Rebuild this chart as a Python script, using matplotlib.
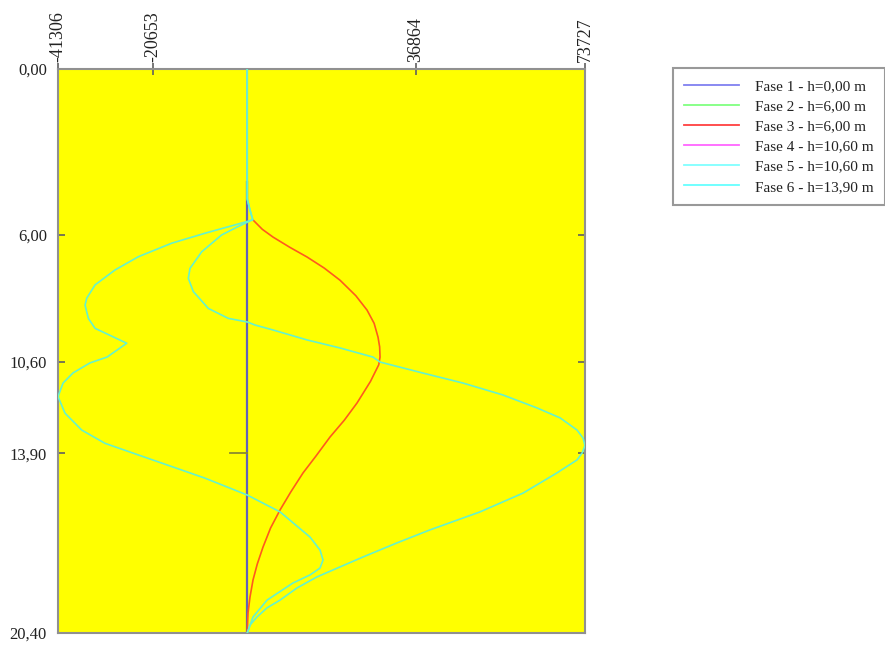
import numpy as np
import matplotlib
matplotlib.use('Agg')
import matplotlib.pyplot as plt
from matplotlib.lines import Line2D

# axis ticks (values as printed on the chart)
X_TICKS = [-41306, -20653, 36864, 73727]
Y_TICKS = [0.00, 6.00, 10.60, 13.90, 20.40]
Y_TICK_LABELS = ['0,00', '6,00', '10,60', '13,90', '20,40']

LABELS = ['Fase 1 - h=0,00 m', 'Fase 2 - h=6,00 m', 'Fase 3 - h=6,00 m',
          'Fase 4 - h=10,60 m', 'Fase 5 - h=10,60 m', 'Fase 6 - h=13,90 m']
LEGEND_COLORS = ['#8080f0', '#80ff80', '#ff4040', '#ff66ff', '#80ffff', '#66ffff']

# depth (m) and value for each phase
fase1_y = [4.10, 20.40]
fase1_x = [0, 0]

fase2_y = [0.00, 20.40]
fase2_x = [0, 0]

fase3_y = [5.45, 5.80, 6.08, 6.45, 6.80, 7.20, 7.64, 8.20, 8.72, 9.20, 9.70, 10.05,
           10.42, 10.70, 11.30, 12.08, 12.70, 13.31, 14.00, 14.61, 15.30, 15.95,
           16.60, 17.29, 17.90, 18.48, 19.10, 19.67, 20.10, 20.40]
fase3_x = [1200, 3300, 5632, 9300, 13053, 16800, 20256, 23700, 26150, 27700, 28551,
           28900, 28987, 28700, 26900, 23967, 21200, 18074, 15000, 12180, 9500, 7160,
           5100, 3449, 2200, 1266, 600, 175, 40, 0]

fase4_y = [0.00, 20.40]
fase4_x = [0, 0]

fase5_y = [0.00, 4.70, 5.10, 5.45, 5.70, 6.00, 6.61, 7.21, 7.57, 8.05, 8.66, 9.02,
           9.15, 9.26, 9.44, 9.80, 10.09, 10.42, 10.60, 11.00, 11.36, 11.79, 12.26,
           12.62, 13.06, 13.35, 13.62, 13.89, 14.14, 14.61, 15.34, 16.02, 16.67,
           17.14, 17.65, 18.01, 18.37, 18.77, 19.21, 19.49, 19.82, 20.11, 20.40]
fase5_x = [0, 0, 600, 1200, -2000, -5570, -9930, -12490, -12860, -11770, -8490,
           -4130, 0, 1700, 5630, 13053, 20250, 27460, 28990, 38400, 47104, 55800,
           63257, 68300, 71988, 73300, 73727, 73100, 71988, 67600, 60201, 50800,
           39900, 32700, 25276, 20250, 15235, 10870, 7160, 4320, 2139, 610, 0]

fase6_y = [0.00, 4.70, 5.10, 5.45, 5.52, 5.94, 6.30, 6.79, 7.27, 7.81, 8.29, 8.54,
           9.02, 9.38, 9.92, 10.42, 10.63, 10.99, 11.36, 11.85, 12.45, 13.06, 13.54,
           13.96, 14.38, 14.80, 15.41, 16.02, 16.93, 17.40, 17.76, 18.05, 18.30,
           18.59, 19.21, 19.82, 20.40]
fase6_x = [0, 0, 600, 1200, -110, -9211, -16480, -23770, -28870, -33220, -35030,
           -35400, -34680, -33220, -26300, -30600, -34314, -38000, -40208, -41306,
           -39770, -36130, -31040, -23770, -16480, -9211, 0, 7160, 13708, 15890,
           16546, 15890, 13708, 9996, 4322, 1266, 0]

fig = plt.figure(figsize=(8.85, 6.45), dpi=100)
ax = fig.add_axes([58/885, 12/645, 527/885, 564/645])
ax.set_facecolor('#ffff00')

curve_cyan = '#66f2cc'
ax.plot(fase2_x, fase2_y, color='#80ff80', lw=1.1, zorder=2)
ax.plot(fase4_x, fase4_y, color='#ff66ff', lw=1.1, zorder=2)
ax.plot(fase1_x, fase1_y, color='#6262b8', lw=1.6, zorder=3)
ax.plot(fase3_x, fase3_y, color='#ff5a1e', lw=1.2, zorder=4)
ax.plot(fase5_x, fase5_y, color=curve_cyan, lw=1.2, zorder=5)
ax.plot(fase6_x, fase6_y, color=curve_cyan, lw=1.2, zorder=5)

ax.set_xlim(X_TICKS[0], X_TICKS[-1])
ax.set_ylim(Y_TICKS[-1], Y_TICKS[0])

# small tick on the zero line at 13,90 as in the original
ax.plot([-3700, 0], [Y_TICKS[3], Y_TICKS[3]], color='#8a8a30', lw=1.3, zorder=3)

ax.xaxis.tick_top()
ax.set_xticks(X_TICKS)
ax.set_xticklabels([str(v) for v in X_TICKS], rotation=90,
                   fontfamily='Liberation Serif', fontsize=13, color='#222222')
ax.set_yticks(Y_TICKS)
ax.set_yticklabels(Y_TICK_LABELS, fontfamily='Liberation Serif', fontsize=12,
                   color='#222222')
ax.tick_params(axis='x', direction='inout', length=8, width=1.2, color='#606060',
               pad=1, bottom=False, top=True)
ax.tick_params(axis='y', direction='in', length=5, width=1.2, color='#606060',
               pad=8, left=True, right=True)

for sp in ax.spines.values():
    sp.set_color('#909090')
    sp.set_linewidth(1.5)

handles = [Line2D([0], [0], color=c, lw=1.3) for c in LEGEND_COLORS]
leg = fig.legend(handles, LABELS, loc='upper left', bbox_to_anchor=(673/885, 1 - 68/645),
                 borderaxespad=0, fancybox=False, frameon=True,
                 prop={'family': 'Liberation Serif', 'size': 11},
                 handlelength=3.6, handletextpad=1.0, labelspacing=0.42,
                 borderpad=0.75)
leg.get_frame().set_edgecolor('#808080')
leg.get_frame().set_linewidth(1.5)
for t in leg.get_texts():
    t.set_color('#222222')

fig.savefig('out.png', dpi=100, facecolor='white')
